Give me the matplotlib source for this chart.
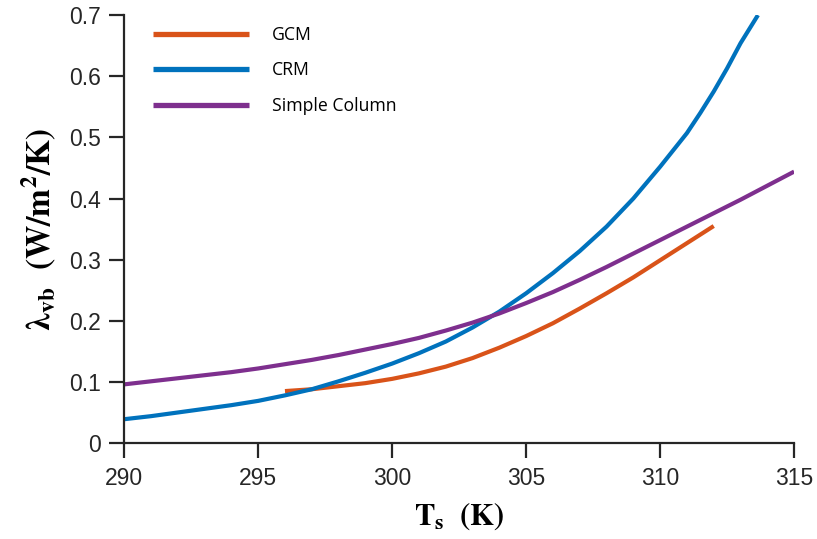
import matplotlib
matplotlib.use('Agg')
import matplotlib.pyplot as plt

# values
ts_crm = [290, 291, 292, 293, 294, 295, 296, 297, 298, 299, 300, 301, 302, 303,
          304, 305, 306, 307, 308, 309, 310, 311, 311.5, 312, 312.5, 313, 313.65]
lam_crm = [0.039, 0.044, 0.050, 0.056, 0.062, 0.069, 0.078, 0.088, 0.101, 0.115,
           0.130, 0.147, 0.166, 0.189, 0.215, 0.245, 0.278, 0.314, 0.354, 0.400,
           0.452, 0.507, 0.540, 0.575, 0.613, 0.654, 0.700]

ts_gcm = [296, 297, 298, 299, 300, 301, 302, 303, 304, 305, 306, 307, 308, 309,
          310, 311, 312]
lam_gcm = [0.085, 0.088, 0.093, 0.098, 0.105, 0.114, 0.125, 0.139, 0.156, 0.175,
           0.196, 0.220, 0.245, 0.271, 0.299, 0.327, 0.355]

ts_col = [290, 291, 292, 293, 294, 295, 296, 297, 298, 299, 300, 301, 302, 303,
          304, 305, 306, 307, 308, 309, 310, 311, 312, 313, 314, 315]
lam_col = [0.096, 0.101, 0.106, 0.111, 0.116, 0.122, 0.129, 0.136, 0.144, 0.153,
           0.162, 0.172, 0.184, 0.197, 0.212, 0.229, 0.247, 0.267, 0.288, 0.310,
           0.332, 0.354, 0.376, 0.398, 0.421, 0.444]

xticks = [290, 295, 300, 305, 310, 315]
yticks = [0, 0.1, 0.2, 0.3, 0.4, 0.5, 0.6, 0.7]
yticklabels = ['0', '0.1', '0.2', '0.3', '0.4', '0.5', '0.6', '0.7']

plt.rcParams['mathtext.fontset'] = 'stix'

fig = plt.figure(figsize=(8.17, 5.39), dpi=100)
ax = fig.add_axes([0.152, 0.178, 0.82, 0.794])

ax.plot(ts_gcm, lam_gcm, color='#D95319', lw=3, label='GCM', solid_capstyle='butt')
ax.plot(ts_crm, lam_crm, color='#0072BD', lw=3, label='CRM', solid_capstyle='butt')
ax.plot(ts_col, lam_col, color='#7E2F8E', lw=3, label='Simple Column', solid_capstyle='butt')

ax.set_xlim(290, 315)
ax.set_ylim(0, 0.7)
ax.set_xticks(xticks)
ax.set_yticks(yticks)
ax.set_yticklabels(yticklabels)

for s in ['top', 'right']:
    ax.spines[s].set_visible(False)
for s in ['left', 'bottom']:
    ax.spines[s].set_linewidth(1.6)
    ax.spines[s].set_color('#262626')

ax.tick_params(direction='out', length=11, width=1.6, color='#262626',
               labelsize=16.5, labelcolor='#262626', pad=6)
for lab in ax.get_xticklabels() + ax.get_yticklabels():
    lab.set_family('Liberation Sans')

ax.set_xlabel(r'$\mathbf{T_s}\ \ \mathbf{(K)}$', fontsize=22, labelpad=8)
ax.set_ylabel(r'$\boldsymbol{\lambda}_{\mathbf{vb}}\ \ \mathbf{(W/m^2/K)}$',
              fontsize=24, labelpad=8)

leg = ax.legend(loc='upper left', bbox_to_anchor=(0.02, 1.012), frameon=False,
                handlelength=5.4, handletextpad=1.3, labelspacing=1.0,
                prop={'family': 'Open Sans', 'size': 12.7})
for line in leg.get_lines():
    line.set_linewidth(3.8)

fig.savefig('out.png', dpi=100)
